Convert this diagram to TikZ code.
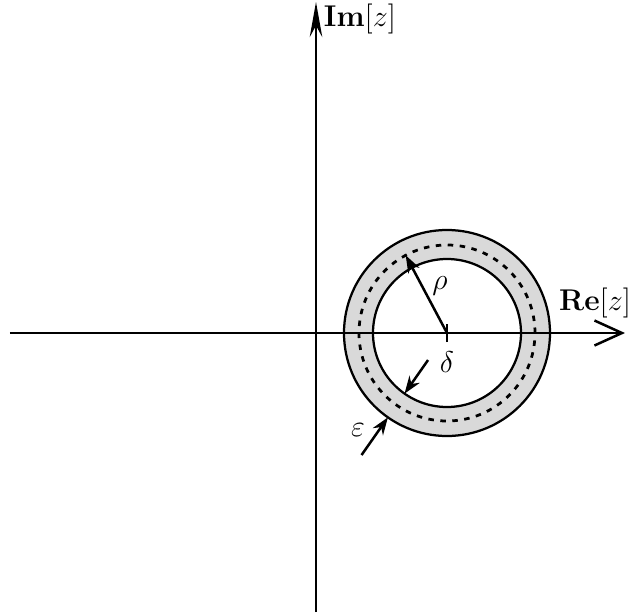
\documentclass[tikz,border=0pt]{standalone}
\usetikzlibrary{arrows.meta,calc}
\tikzset{plane/.style={x=0.4pt,y=0.4pt,font=\large},
  axis/.style={line width=1pt},
  dimarrow/.style={line width=1pt,-{Stealth[length=7pt,width=5pt]}}}

\begin{document}
\begin{tikzpicture}[plane]
    \useasboundingbox (-316,-282) rectangle (319,333);
    \def\rin{74}\def\rout{103}\def\rmid{88}
    \coordinate (c) at (131,0);
    % annulus
    \fill[gray!30,even odd rule] (c) circle (\rout) (c) circle (\rin);
    \draw[line width=0.9pt] (c) circle (\rout);
    \draw[line width=0.9pt] (c) circle (\rin);
    \draw[line width=1.1pt,dash pattern=on 2.2pt off 2.6pt] (c) circle (\rmid);
    % axes
    \coordinate (xl) at (-306,0); \coordinate (xr) at (309,0);
    \coordinate (yb) at (0,-279); \coordinate (yt) at (0,331);
    \draw[axis,-{Straight Barb[length=11pt,width=10pt]}] (xl) -- (xr);
    \draw[axis,-{Stealth[length=14pt,width=5pt]}] (yb) -- (yt);
    \node[anchor=west,inner sep=1pt] (im) at (5,314) {$\mathbf{Im}[z]$};
    \node[anchor=east,inner sep=1pt] (re) at (318,30) {$\mathbf{Re}[z]$};
    % centre and radius
    \coordinate (tb) at ($(c)+(0,-9)$); \coordinate (tt) at ($(c)+(0,9)$);
    \draw[line width=0.9pt] (tb) -- (tt);
    \node (delta) at (131,-29) {$\delta$};
    \coordinate (rhotip) at ($(c)+(118:\rmid)$);
    \draw[dimarrow] (c) -- (rhotip);
    \node (rho) at (124,47) {$\rho$};
    % width of the band
    \coordinate (e1) at ($(c)+(-125:33)$);  \coordinate (e1t) at ($(c)+(-125:\rin)$);
    \coordinate (e2) at ($(c)+(-125:149)$); \coordinate (e2t) at ($(c)+(-125:\rout)$);
    \draw[dimarrow] (e1) -- (e1t);
    \draw[dimarrow] (e2) -- (e2t);
    \node (eps) at (42,-97) {$\varepsilon$};
\end{tikzpicture}
\end{document}
